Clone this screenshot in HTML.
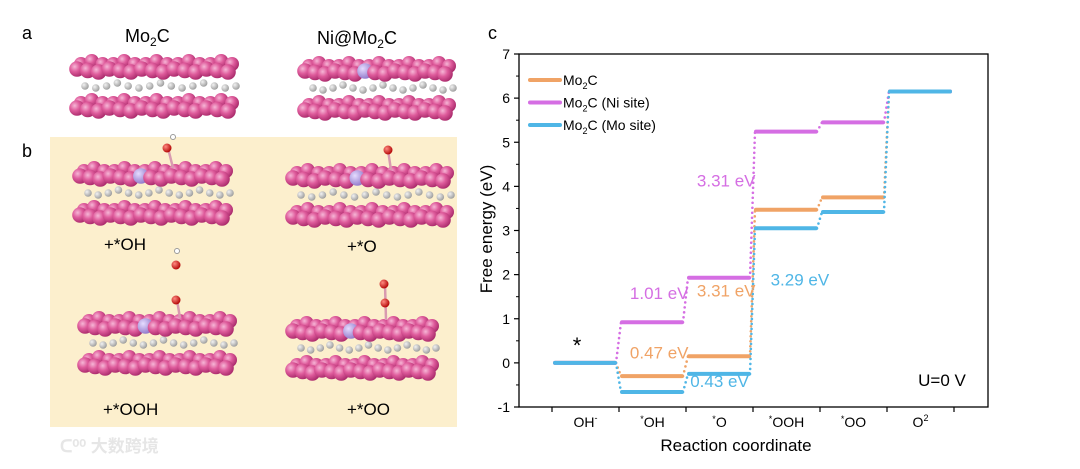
<!DOCTYPE html>
<html><head><meta charset="utf-8"><style>
html,body{margin:0;padding:0;background:#fff;}
body{width:1080px;height:464px;overflow:hidden;font-family:"Liberation Sans","Noto Sans CJK SC",sans-serif;}
svg text{font-family:"Liberation Sans","Noto Sans CJK SC",sans-serif;}
</style></head><body>
<svg id="fig" width="1080" height="464" viewBox="0 0 1080 464">
<defs>
<radialGradient id="gPink" cx="0.35" cy="0.35" r="0.7"><stop offset="0" stop-color="#f6b6d6"/><stop offset="0.45" stop-color="#df5c9c"/><stop offset="1" stop-color="#a8296a"/></radialGradient>
<radialGradient id="gGray" cx="0.35" cy="0.35" r="0.7"><stop offset="0" stop-color="#f2f2f2"/><stop offset="1" stop-color="#9a9a9a"/></radialGradient>
<radialGradient id="gNi" cx="0.35" cy="0.35" r="0.7"><stop offset="0" stop-color="#e6dcff"/><stop offset="1" stop-color="#8f76c9"/></radialGradient>
<radialGradient id="gO" cx="0.35" cy="0.35" r="0.7"><stop offset="0" stop-color="#ff8a80"/><stop offset="1" stop-color="#b00000"/></radialGradient>
</defs>
<g id="left">
<text x="22" y="39" font-size="18">a</text>
<text x="125" y="42" font-size="18">Mo<tspan font-size="12" dy="4">2</tspan><tspan dy="-4">C</tspan></text>
<text x="317" y="44" font-size="18">Ni@Mo<tspan font-size="12" dy="4">2</tspan><tspan dy="-4">C</tspan></text>
<rect x="50" y="137" width="407" height="290" fill="#fcefcd"/>
<text x="22" y="157" font-size="18">b</text>
<text x="104" y="250" font-size="17">+*OH</text>
<text x="347" y="252" font-size="17">+*O</text>
<text x="103" y="415" font-size="17">+*OOH</text>
<text x="347" y="415" font-size="17">+*OO</text>
<text x="60" y="452" font-size="17" fill="#e6e6e6" font-weight="bold">ᑕ⁰⁰ 大数跨境</text>
</g>
<g id="chart"></g>
</svg>
<script>
// ---- chart data ----
const categories = ["OH-", "*OH", "*O", "*OOH", "*OO", "O2"];
const seriesNames = ["Mo2C", "Mo2C (Ni site)", "Mo2C (Mo site)"];
const mo2cValues = [0, -0.30, 0.15, 3.47, 3.75, 6.15];
const niSiteValues = [0, 0.92, 1.93, 5.24, 5.45, 6.15];
const moSiteValues = [0, -0.66, -0.25, 3.05, 3.42, 6.15];
const yTicks = [-1, 0, 1, 2, 3, 4, 5, 6, 7];
const annotations = [
  {text:"3.31 eV", cat:2.6, val:4.0, s:1},
  {text:"1.01 eV", cat:1.6, val:1.45, s:1},
  {text:"3.31 eV", cat:2.6, val:1.5, s:0},
  {text:"3.29 eV", cat:3.7, val:1.75, s:2},
  {text:"0.47 eV", cat:1.6, val:0.1, s:0},
  {text:"0.43 eV", cat:2.5, val:-0.55, s:2}
];
const colors = ["#f0a366", "#d56ee3", "#4fb6e6"];

const NS = "http://www.w3.org/2000/svg";
const chart = document.getElementById("chart");
const X0 = 519, X1 = 988, Y0 = 54, Y1 = 407;
const yMin = -1, yMax = 7;
const tick0 = 552, tickStep = 67;
function yScale(v){ return Y1 - (v - yMin) / (yMax - yMin) * (Y1 - Y0); }
function xTick(i){ return tick0 + i * tickStep; }
function xCat(c){ return xTick(c) + tickStep/2; }
function mk(tag, attrs, parent){ const e = document.createElementNS(NS, tag); for (const k in attrs) e.setAttribute(k, attrs[k]); (parent||chart).appendChild(e); return e; }

let t = mk("text", {x:488, y:39, "font-size":18});
t.textContent = "c";



let frame = mk("rect", {x:X0, y:Y0, width:X1-X0, height:Y1-Y0, fill:"none", stroke:"#000", "stroke-width":1.3});



yTicks.forEach((v, i) => {
  const y = yScale(v);
  const tk = mk("line", {x1:X0-5, x2:X0, y1:y, y2:y, stroke:"#000", "stroke-width":1.2});
  
  
  if (i < yTicks.length - 1) {
    const ym = yScale(v + 0.5);
    const mt = mk("line", {x1:X0-3, x2:X0, y1:ym, y2:ym, stroke:"#000", "stroke-width":1});
    
    
  }
  const lb = mk("text", {x:X0-9, y:y+5, "font-size":14, "text-anchor":"end"});
  lb.textContent = v;
  
  
});
for (let i = 0; i <= categories.length; i++) {
  const x = xTick(i);
  const tk = mk("line", {x1:x, x2:x, y1:Y1, y2:Y1+5, stroke:"#000", "stroke-width":1.2});
  
  
}
const catLabelHTML = [
  ['OH','-','sup'],['OH','*','pre'],['O','*','pre'],['OOH','*','pre'],['OO','*','pre'],['O','2','sup']
];
categories.forEach((c, i) => {
  const lb = mk("text", {x:xCat(i), y:427, "font-size":14, "text-anchor":"middle"});
  const p = catLabelHTML[i];
  if (p[2] === 'pre') {
    const s = mk("tspan", {"font-size":9, dy:-5}, lb); s.textContent = p[1];
    const m = mk("tspan", {dy:5}, lb); m.textContent = p[0];
  } else {
    const m = mk("tspan", {}, lb); m.textContent = p[0];
    const s = mk("tspan", {"font-size":9, dy:-6}, lb); s.textContent = p[1];
  }
  
  
});
let xt = mk("text", {x:736, y:451, "font-size":17, "text-anchor":"middle"});
xt.textContent = "Reaction coordinate";


let yt = mk("text", {x:0, y:0, "font-size":17, "text-anchor":"middle", transform:"translate(492,229) rotate(-90)"});
yt.textContent = "Free energy (eV)";



const allSeries = [mo2cValues, niSiteValues, moSiteValues];
const seriesKeys = ["mo2c", "ni-site", "mo-site"];
allSeries.forEach((vals, s) => {
  const g = mk("g", {});
  
  
  vals.forEach((v, i) => {
    const xa = xTick(i) + 3, xb = xTick(i+1) - 4;
    const ln = mk("line", {x1:xa, x2:xb, y1:yScale(v), y2:yScale(v), stroke:colors[s], "stroke-width":4, "stroke-linecap":"round"}, g);
    
    
    if (i < vals.length - 1) {
      const cn = mk("line", {x1:xb+1, y1:yScale(v), x2:xTick(i+1)+2, y2:yScale(vals[i+1]), stroke:colors[s], "stroke-width":2.6, "stroke-linecap":"round", "stroke-dasharray":"0 5"}, g);
      
      
    }
  });
});

annotations.forEach(a => {
  const tx = mk("text", {x:xTick(0) + a.cat*tickStep, y:yScale(a.val), "font-size":17, fill:colors[a.s], "text-anchor":"middle"});
  tx.textContent = a.text;
  
  
});
let star = mk("text", {x:577, y:353, "font-size":22, "text-anchor":"middle"});
star.textContent = "*";


let u = mk("text", {x:942, y:386, "font-size":17, "text-anchor":"middle"});
u.textContent = "U=0 V";



seriesNames.forEach((n, i) => {
  const y = 80 + i*22.5;
  const ll = mk("line", {x1:530, x2:560, y1:y, y2:y, stroke:colors[i], "stroke-width":4, "stroke-linecap":"round"});
  
  
  const lt = mk("text", {x:563, y:y+5, "font-size":14});
  const a = mk("tspan", {}, lt); a.textContent = "Mo";
  const b = mk("tspan", {"font-size":9, dy:4}, lt); b.textContent = "2";
  const c = mk("tspan", {dy:-4}, lt); c.textContent = "C" + n.slice(4);
  
  
});

// ---- structures ----
const left = document.getElementById("left");
function ball(x, y, r, fill, parent){ const c = document.createElementNS(NS, "circle"); c.setAttribute("cx", x); c.setAttribute("cy", y); c.setAttribute("r", r); c.setAttribute("fill", fill); parent.appendChild(c); return c; }
function slab(x0, x1, y, niIdx, name){
  const g = document.createElementNS(NS, "g");
  
  
  left.appendChild(g);
  const n = 15, step = (x1 - x0) / (n - 1);
  for (let i = 0; i < n; i++) ball(x0 + 8 + i*step, y + 19 + (i%4===3 ? -3 : (i%2)*2), 3.8, "url(#gGray)", g);
  for (let i = 0; i < n; i++) ball(x0 + 4 + i*step, y - 3 + ((i%3)===1 ? -3 : 0), 7, "url(#gPink)", g);
  for (let i = 0; i < n; i++) ball(x0 + i*step, y + 2 + (i%3)*1.5, 7.8, (i===niIdx ? "url(#gNi)" : "url(#gPink)"), g);
  for (let i = 0; i < n; i++) ball(x0 + 4 + i*step, y + 36 + ((i%3)===1 ? -3 : 0), 7, "url(#gPink)", g);
  for (let i = 0; i < n; i++) ball(x0 + i*step, y + 41 + (i%3)*1.5, 7.8, "url(#gPink)", g);
}
slab(77, 228, 67, -1, "mo2c-slab");
slab(305, 445, 69, 6, "ni-mo2c-slab");
slab(80, 222, 174, 6, "slab-oh");
slab(293, 443, 176, 6, "slab-o");
slab(85, 226, 324, 6, "slab-ooh");
slab(293, 428, 329, 6, "slab-oo");
function ads(pts, name){
  const g = document.createElementNS(NS, "g");
  
  
  left.appendChild(g);
  pts.forEach(p => {
    if (p[0] === 'b') { const l = document.createElementNS(NS, "line"); l.setAttribute("x1", p[1]); l.setAttribute("y1", p[2]); l.setAttribute("x2", p[3]); l.setAttribute("y2", p[4]); l.setAttribute("stroke", "#d99ab0"); l.setAttribute("stroke-width", 2.5); g.appendChild(l); }
    else ball(p[1], p[2], p[0]==='O' ? 4.5 : 2.5, p[0]==='O' ? "url(#gO)" : "#fff", g).setAttribute("stroke", p[0]==='H' ? "#999" : "none");
  });
}
ads([['b',168,148,173,168],['O',167,148],['H',173,137]], "adsorbate-oh");
ads([['b',388,150,391,170],['O',388,150]], "adsorbate-o");
ads([['H',177,251],['O',176,265],['b',177,300,180,318],['O',176,300]], "adsorbate-ooh");
ads([['b',385,284,386,320],['O',384,284],['O',385,303]], "adsorbate-oo");
</script>
</body></html>
